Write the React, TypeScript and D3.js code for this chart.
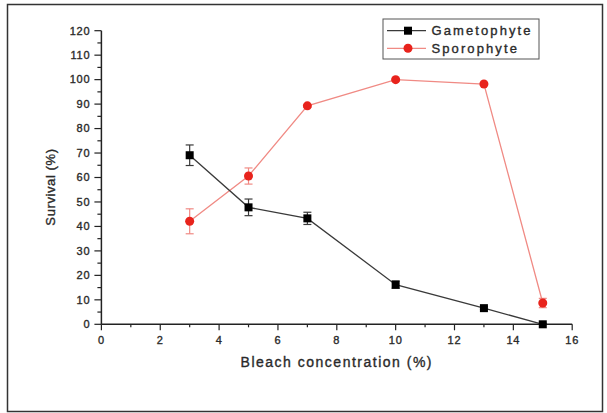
import React from 'react';
import * as d3 from 'd3';

// bleach concentration (%)
const concentrations = [3, 5, 7, 10, 13, 15];

// survival (%) with error bars
const gametophyte = [69.1, 47.8, 43.3, 16.2, 6.6, 0];
const gametophyteErr = [4.2, 3.4, 2.5, 1.5, 0.6, 0.4];
const sporophyte = [42.1, 60.6, 89.3, 100, 98.2, 8.7];
const sporophyteErr = [5.1, 3.3, 0.6, 0.5, 0.6, 1.9];

const xTicks = [0, 2, 4, 6, 8, 10, 12, 14, 16];
const yTicks = [0, 10, 20, 30, 40, 50, 60, 70, 80, 90, 100, 110, 120];
const seriesNames = ['Gametophyte', 'Sporophyte'];

const App = () => {
  // chart size and plot boundaries
  const width = 607;
  const height = 413;
  const margin = { top: 30.7, bottom: 88.7, left: 101.4, right: 34.8 };
  const chartWidth = width - margin.left - margin.right;
  const chartHeight = height - margin.top - margin.bottom;

  const xScale = d3.scaleLinear().domain([0, 16]).range([0, chartWidth]);
  const yScale = d3.scaleLinear().domain([0, 120]).range([chartHeight, 0]);

  const linePlot = d3.line<number>()
    .x((d, i) => xScale(concentrations[i]))
    .y(d => yScale(d));

  const font = "Arial, 'Liberation Sans', sans-serif";
  const textColor = '#2a2a2a';
  // slight stroke to mimic the heavier, blurred text of the original
  const textStroke = { stroke: textColor, strokeWidth: 0.35 };

  const gameColor = '#3a3a3a';
  const sporoLine = '#f08a84';
  const sporoMark = '#e8231c';

  const xMinor = d3.range(1, 16, 2);
  const yMinor = d3.range(5, 120, 10);

  return (
    <svg width={width} height={height} style={{ position: 'absolute', left: 0, top: 0, background: '#fff' }}>
      <rect x={7.5} y={4.5} width={595} height={407} fill='white' stroke='#333' strokeWidth={1.5}/>
      <g transform={`translate(${margin.left}, ${margin.top})`}>
        {/* y ticks */}
        {yTicks.map(t => (
          <g key={'y' + t} transform={`translate(0, ${yScale(t)})`}>
            <line x1={-7} x2={0} stroke='#222' strokeWidth={1.2}/>
            <text x={-11} dy='0.35em' textAnchor='end' fontSize={11} letterSpacing={0.8}
              fontFamily={font} fill={textColor} {...textStroke}>{t}</text>
          </g>
        ))}
        {yMinor.map(t => (
          <line key={'ym' + t} x1={-4} x2={0} y1={yScale(t)} y2={yScale(t)} stroke='#222' strokeWidth={1.2}/>
        ))}
        {/* x ticks */}
        {xTicks.map(t => (
          <g key={'x' + t} transform={`translate(${xScale(t)}, ${chartHeight})`}>
            <line y1={0} y2={6} stroke='#222' strokeWidth={1.2}/>
            <text y={16} dy='0.35em' textAnchor='middle' fontSize={11} letterSpacing={0.8}
              fontFamily={font} fill={textColor} {...textStroke}>{t}</text>
          </g>
        ))}
        {xMinor.map(t => (
          <line key={'xm' + t} x1={xScale(t)} x2={xScale(t)} y1={0} y2={3}
            transform={`translate(0, ${chartHeight})`} stroke='#222' strokeWidth={1.2}/>
        ))}
        {/* axes */}
        <line x1={0} x2={0} y1={0} y2={chartHeight} stroke='#222' strokeWidth={1.5}/>
        <line x1={0} x2={chartWidth} y1={chartHeight} y2={chartHeight} stroke='#222' strokeWidth={1.5}/>

        {/* sporophyte */}
        <path d={linePlot(sporophyte) || ''} fill='none' stroke={sporoLine} strokeWidth={1.3}/>
        {sporophyte.map((v, i) => {
          const cx = xScale(concentrations[i]);
          const top = yScale(v + sporophyteErr[i]);
          const bottom = yScale(v - sporophyteErr[i]);
          return (
            <g key={'s' + i}>
              <line x1={cx} x2={cx} y1={top} y2={bottom} stroke={sporoLine} strokeWidth={1.2}/>
              <line x1={cx - 4} x2={cx + 4} y1={top} y2={top} stroke={sporoLine} strokeWidth={1.2}/>
              <line x1={cx - 4} x2={cx + 4} y1={bottom} y2={bottom} stroke={sporoLine} strokeWidth={1.2}/>
              <circle cx={cx} cy={yScale(v)} r={4.5} fill={sporoMark}/>
            </g>
          );
        })}

        {/* gametophyte */}
        <path d={linePlot(gametophyte) || ''} fill='none' stroke={gameColor} strokeWidth={1.3}/>
        {gametophyte.map((v, i) => {
          const cx = xScale(concentrations[i]);
          const top = yScale(v + gametophyteErr[i]);
          const bottom = yScale(Math.max(0, v - gametophyteErr[i]));
          return (
            <g key={'g' + i}>
              <line x1={cx} x2={cx} y1={top} y2={bottom} stroke={gameColor} strokeWidth={1.2}/>
              <line x1={cx - 4} x2={cx + 4} y1={top} y2={top} stroke={gameColor} strokeWidth={1.2}/>
              <line x1={cx - 4} x2={cx + 4} y1={bottom} y2={bottom} stroke={gameColor} strokeWidth={1.2}/>
              <rect x={cx - 4} y={yScale(v) - 4} width={8} height={8} fill='#000'/>
            </g>
          );
        })}
      </g>

      {/* axis titles */}
      <text x={margin.left + xScale(8)} y={362} dy='0.35em' textAnchor='middle' fontSize={14}
        letterSpacing={1.5} fontFamily={font} fill={textColor} {...textStroke}>Bleach concentration (%)</text>
      <text transform='translate(50.5, 187) rotate(-90)' dy='0.35em' textAnchor='middle' fontSize={13}
        letterSpacing={0.6} fontFamily={font} fill={textColor} {...textStroke}>Survival (%)</text>

      {/* legend */}
      <rect x={383} y={19} width={156} height={40} fill='white' stroke='#555' strokeWidth={1}/>
      {seriesNames.map((name, i) => {
        const ly = 30.7 + i * 17.6;
        const isGame = i === 0;
        return (
          <g key={name}>
            <line x1={387} x2={426} y1={ly} y2={ly} stroke={isGame ? gameColor : sporoLine} strokeWidth={1.3}/>
            {isGame
              ? <rect x={404} y={ly - 4} width={8} height={8} fill='#000'/>
              : <circle cx={408} cy={ly} r={4.5} fill={sporoMark}/>}
            <text x={431.5} y={ly} dy='0.35em' fontSize={13} letterSpacing={2.1}
              fontFamily={font} fill={textColor} {...textStroke}>{name}</text>
          </g>
        );
      })}
    </svg>
  );
};

export default App;
